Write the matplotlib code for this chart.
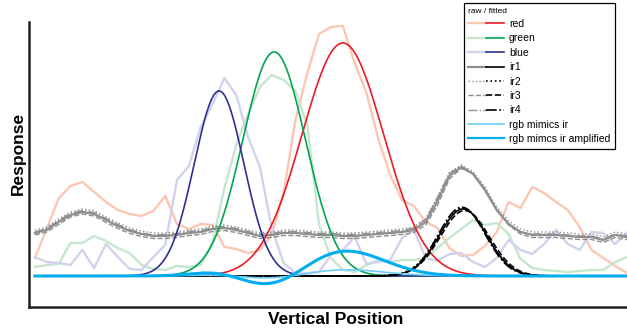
import numpy as np
import matplotlib
matplotlib.use("Agg")
import matplotlib.pyplot as plt
from matplotlib.legend_handler import HandlerTuple

plt.rcParams['font.family'] = ['Liberation Sans', 'DejaVu Sans']

# sample positions along the sensor (raw readings)
positions = np.arange(0, 101, 2)

red_raw = [0.072, 0.19, 0.31, 0.36, 0.376, 0.336, 0.296, 0.264, 0.248, 0.24,
           0.26, 0.32, 0.208, 0.188, 0.208, 0.204, 0.116, 0.108, 0.092, 0.104,
           0.164, 0.332, 0.624, 0.812, 0.968, 0.996, 1.0, 0.852, 0.732, 0.548,
           0.404, 0.304, 0.28, 0.216, 0.192, 0.112, 0.08, 0.084, 0.12, 0.176,
           0.296, 0.272, 0.356, 0.332, 0.296, 0.264, 0.196, 0.104, 0.072, 0.04,
           0.012]
green_raw = [0.036, 0.044, 0.048, 0.132, 0.132, 0.16, 0.14, 0.112, 0.092, 0.044,
             0.028, 0.024, 0.04, 0.036, 0.044, 0.136, 0.352, 0.524, 0.648, 0.756,
             0.804, 0.784, 0.74, 0.604, 0.204, 0.072, 0.024, 0.016, 0.044, 0.064,
             0.056, 0.064, 0.064, 0.072, 0.112, 0.152, 0.188, 0.224, 0.204, 0.212,
             0.168, 0.068, 0.032, 0.024, 0.02, 0.016, 0.02, 0.024, 0.024, 0.056,
             0.076]
blue_raw = [0.076, 0.056, 0.052, 0.044, 0.104, 0.032, 0.128, 0.076, 0.028, 0.024,
            0.076, 0.124, 0.384, 0.44, 0.596, 0.688, 0.792, 0.724, 0.556, 0.436,
            0.192, 0.052, 0.012, 0.012, 0.016, 0.084, 0.104, 0.156, 0.048, 0.056,
            0.064, 0.152, 0.184, 0.072, 0.06, 0.088, 0.092, 0.056, 0.036, 0.072,
            0.144, 0.104, 0.088, 0.128, 0.184, 0.128, 0.104, 0.176, 0.172, 0.128,
            0.172]
ir1_raw = [0.172, 0.184, 0.216, 0.244, 0.256, 0.248, 0.224, 0.2, 0.18, 0.168,
           0.16, 0.16, 0.164, 0.172, 0.176, 0.188, 0.192, 0.184, 0.172, 0.16,
           0.164, 0.172, 0.172, 0.168, 0.164, 0.164, 0.16, 0.16, 0.164, 0.168,
           0.172, 0.176, 0.184, 0.216, 0.3, 0.4, 0.436, 0.408, 0.344, 0.264,
           0.208, 0.176, 0.164, 0.164, 0.164, 0.16, 0.156, 0.156, 0.144, 0.164,
           0.156]
ir2_raw = [0.184, 0.196, 0.228, 0.256, 0.268, 0.262, 0.236, 0.212, 0.192, 0.18,
           0.172, 0.172, 0.176, 0.184, 0.188, 0.2, 0.204, 0.196, 0.184, 0.172,
           0.176, 0.184, 0.184, 0.18, 0.176, 0.176, 0.172, 0.172, 0.176, 0.18,
           0.184, 0.188, 0.196, 0.23, 0.316, 0.414, 0.444, 0.418, 0.356, 0.276,
           0.22, 0.188, 0.176, 0.176, 0.176, 0.172, 0.168, 0.168, 0.156, 0.176,
           0.168]
ir3_raw = [0.164, 0.176, 0.206, 0.236, 0.248, 0.24, 0.214, 0.19, 0.17, 0.158,
           0.15, 0.15, 0.154, 0.162, 0.166, 0.178, 0.182, 0.174, 0.162, 0.15,
           0.154, 0.162, 0.162, 0.158, 0.154, 0.154, 0.15, 0.15, 0.154, 0.158,
           0.162, 0.166, 0.174, 0.204, 0.284, 0.388, 0.43, 0.41, 0.35, 0.266,
           0.204, 0.168, 0.154, 0.154, 0.154, 0.15, 0.146, 0.146, 0.134, 0.154,
           0.146]
ir4_raw = [0.176, 0.19, 0.222, 0.25, 0.262, 0.254, 0.23, 0.206, 0.186, 0.172,
           0.164, 0.166, 0.17, 0.178, 0.182, 0.194, 0.198, 0.19, 0.178, 0.166,
           0.17, 0.178, 0.178, 0.174, 0.17, 0.17, 0.166, 0.166, 0.17, 0.174,
           0.178, 0.182, 0.192, 0.226, 0.314, 0.41, 0.44, 0.41, 0.344, 0.262,
           0.206, 0.176, 0.168, 0.168, 0.168, 0.164, 0.16, 0.16, 0.148, 0.168,
           0.16]

# gaussian fits (amplitude, centre, sigma)
red_fit = (0.932, 52.0, 6.9)
green_fit = (0.896, 40.4, 5.3)
blue_fit = (0.74, 31.1, 4.2)
ir_fits = [(0.268, 72.3, 4.0), (0.272, 72.2, 4.05),
           (0.262, 72.6, 4.1), (0.275, 72.1, 3.95)]

# r, g, b weights that mimic the ir response, and the display gain
mimic_weights = (0.0278, -0.0148, 0.0065)
mimic_gain = 4.0

ir_labels = ['ir1', 'ir2', 'ir3', 'ir4']
ir_styles = ['-', ':', '--', '-.']


def gauss(x, p):
    a, mu, s = p
    return a * np.exp(-(x - mu) ** 2 / (2 * s ** 2))


xs = np.linspace(0, 100, 600)
fit_r = gauss(xs, red_fit)
fit_g = gauss(xs, green_fit)
fit_b = gauss(xs, blue_fit)
mimic = mimic_weights[0] * fit_r + mimic_weights[1] * fit_g + mimic_weights[2] * fit_b

fig = plt.figure(figsize=(6.27, 3.29), dpi=100)
ax = fig.add_axes([0.0463, 0.0669, 0.9537, 0.8663])

# raw
r_raw, = ax.plot(positions, red_raw, color='#fcc7b2', lw=1.7)
g_raw, = ax.plot(positions, green_raw, color='#c6e6cd', lw=1.7)
b_raw, = ax.plot(positions, blue_raw, color='#d2d2ee', lw=1.7)
ir_raw_lines = []
for vals, ls in zip([ir1_raw, ir2_raw, ir3_raw, ir4_raw], ir_styles):
    ln, = ax.plot(positions, vals, color='#8e8e8e', lw=1.6 if ls == '-' else 1.0, ls=ls)
    ir_raw_lines.append(ln)

# fitted
r_fit, = ax.plot(xs, fit_r, color='#ed1c24', lw=1.2)
g_fit, = ax.plot(xs, fit_g, color='#00a651', lw=1.2)
b_fit, = ax.plot(xs, fit_b, color='#2e3192', lw=1.2)
ir_fit_lines = []
for p, ls in zip(ir_fits, ir_styles):
    ln, = ax.plot(xs, gauss(xs, p), color='black', lw=1.2, ls=ls)
    ir_fit_lines.append(ln)

mim, = ax.plot(xs, mimic, color='#6dcff6', lw=1.2)
mim_amp, = ax.plot(xs, mimic * mimic_gain, color='#00aeef', lw=2.2)

ax.set_xlim(-1.0, 100)
ax.set_ylim(-0.124, 1.016)
ax.set_xticks([])
ax.set_yticks([])
for side in ['top', 'right']:
    ax.spines[side].set_visible(False)
for side in ['left', 'bottom']:
    ax.spines[side].set_linewidth(1.8)
    ax.spines[side].set_color('#222222')

ax.set_xlabel('Vertical Position', fontsize=12.5, fontweight='bold')
ax.set_ylabel('Response', fontsize=12.5, fontweight='bold')
ax.xaxis.set_label_coords(0.512, -0.018)
ax.yaxis.set_label_coords(-0.006, 0.54)

handles = [(r_raw, r_fit), (g_raw, g_fit), (b_raw, b_fit)]
handles += [(a, b) for a, b in zip(ir_raw_lines, ir_fit_lines)]
handles += [mim, mim_amp]
labels = ['red', 'green', 'blue'] + ir_labels + ['rgb mimics ir', 'rgb mimcs ir amplified']

leg = ax.legend(handles, labels, handler_map={tuple: HandlerTuple(ndivide=None, pad=0)},
                loc='upper right', bbox_to_anchor=(615 / 627, 1 - 3 / 329),
                bbox_transform=fig.transFigure, borderaxespad=0,
                fontsize=7.5, title='raw / fitted', title_fontsize=6,
                alignment='left', fancybox=False, framealpha=1,
                edgecolor='black', handlelength=3.4, handletextpad=0.5,
                labelspacing=0.42, borderpad=0.45)
leg.get_frame().set_linewidth(0.9)
mim_amp_handle = leg.legend_handles[-1]
mim_amp_handle.set_linewidth(1.6)

fig.savefig('out.png', dpi=100)
